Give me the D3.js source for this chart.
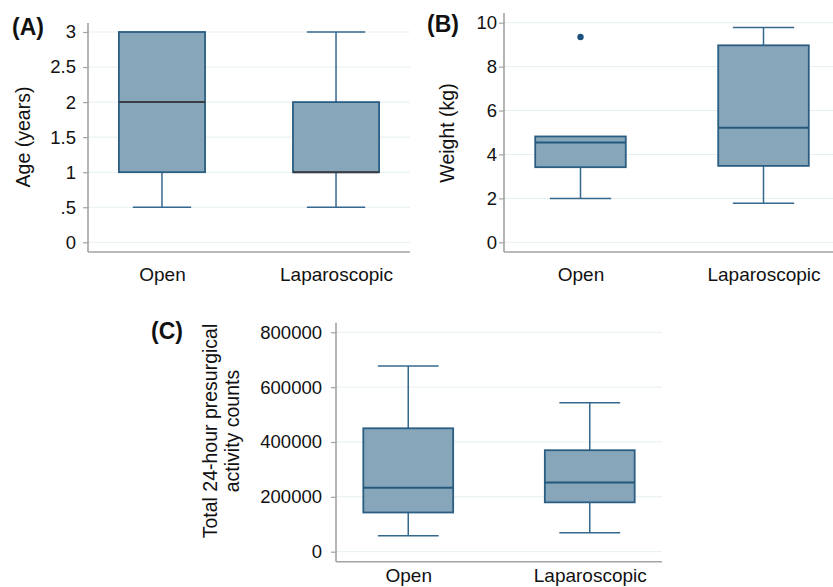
<!DOCTYPE html>
<html>
<head>
<meta charset="utf-8">
<script src="https://cdn.jsdelivr.net/npm/d3@7"></script>
<style>
  html, body { margin: 0; padding: 0; background: #fff; }
  svg { display: block; }
  text { font-family: "Liberation Sans", Arial, Helvetica, sans-serif; fill: #111; }
</style>
</head>
<body>
<svg id="chart" width="833" height="587"></svg>
<script>
// ---- data ----
const categories = ["Open", "Laparoscopic"];

const ageStats = [
  { min: 0.5, q1: 1, median: 2, q3: 3, max: 3 },
  { min: 0.5, q1: 1, median: 1, q3: 2, max: 3 }
];
const ageOutliers = [[], []];
const ageTicks = [0, 0.5, 1, 1.5, 2, 2.5, 3];
const ageTickLabels = ["0", ".5", "1", "1.5", "2", "2.5", "3"];

const weightStats = [
  { min: 2.0, q1: 3.42, median: 4.55, q3: 4.82, max: 4.82 },
  { min: 1.78, q1: 3.48, median: 5.22, q3: 8.97, max: 9.78 }
];
const weightOutliers = [[9.35], []];
const weightTicks = [0, 2, 4, 6, 8, 10];
const weightTickLabels = ["0", "2", "4", "6", "8", "10"];

const activityStats = [
  { min: 58000, q1: 143000, median: 233000, q3: 450000, max: 677000 },
  { min: 69000, q1: 180000, median: 252000, q3: 370000, max: 543000 }
];
const activityOutliers = [[], []];
const activityTicks = [0, 200000, 400000, 600000, 800000];
const activityTickLabels = ["0", "200000", "400000", "600000", "800000"];

// ---- styles ----
const FILL = "#87a6b9";
const STROKE = "#2b5e83";
const WHISKER = "#35688e";
const GRID = "#e5eff1";
const AXIS = "#a3a3a3";

const svg = d3.select("#chart");

function drawPanel(cfg) {
  const g = svg.append("g");
  const x = d3.scalePoint().domain(categories).range([cfg.left, cfg.right]).padding(cfg.pad);
  const y = d3.scaleLinear().domain(cfg.domain).range([cfg.y0, cfg.y1]);
  const step = x.step();
  const boxW = step * 0.495;
  const capW = step * 0.335;

  // gridlines
  g.selectAll(".grid").data(cfg.ticks).enter().append("line")
    .attr("x1", cfg.left).attr("x2", cfg.right)
    .attr("y1", d => y(d)).attr("y2", d => y(d))
    .attr("stroke", GRID).attr("stroke-width", 1);

  // y axis
  const yAxis = d3.axisLeft(y).tickValues(cfg.ticks)
    .tickFormat((d, i) => cfg.tickLabels[i]).tickSize(5).tickPadding(cfg.tickPad);
  const ya = g.append("g").attr("transform", `translate(${cfg.left},0)`).call(yAxis);
  ya.select(".domain").remove();
  ya.selectAll(".tick line").attr("stroke", AXIS).attr("stroke-width", 1.2);
  ya.selectAll(".tick text").attr("font-size", 18.5).attr("fill", "#111")
    .style("font-family", '"Liberation Sans", Arial, sans-serif');
  g.append("line").attr("x1", cfg.left).attr("x2", cfg.left)
    .attr("y1", cfg.axisTop).attr("y2", cfg.axisBottom)
    .attr("stroke", AXIS).attr("stroke-width", 1.6);

  // x axis
  const xAxis = d3.axisBottom(x).tickSize(0).tickPadding(cfg.xPad);
  const xa = g.append("g").attr("transform", `translate(0,${cfg.axisBottom})`).call(xAxis);
  xa.select(".domain").remove();
  xa.selectAll(".tick text").attr("font-size", 19).attr("fill", "#111")
    .style("font-family", '"Liberation Sans", Arial, sans-serif');
  g.append("line").attr("x1", cfg.left).attr("x2", cfg.right)
    .attr("y1", cfg.axisBottom).attr("y2", cfg.axisBottom)
    .attr("stroke", AXIS).attr("stroke-width", 1.6);

  // boxes
  const boxes = g.selectAll(".box").data(cfg.stats).enter().append("g");
  boxes.each(function (d, i) {
    const gg = d3.select(this);
    const cx = x(categories[i]);
    if (d.max > d.q3) {
      gg.append("line").attr("x1", cx).attr("x2", cx).attr("y1", y(d.q3)).attr("y2", y(d.max))
        .attr("stroke", WHISKER).attr("stroke-width", 1.5);
      gg.append("line").attr("x1", cx - capW / 2).attr("x2", cx + capW / 2)
        .attr("y1", y(d.max)).attr("y2", y(d.max)).attr("stroke", WHISKER).attr("stroke-width", 1.5);
    }
    if (d.min < d.q1) {
      gg.append("line").attr("x1", cx).attr("x2", cx).attr("y1", y(d.q1)).attr("y2", y(d.min))
        .attr("stroke", WHISKER).attr("stroke-width", 1.5);
      gg.append("line").attr("x1", cx - capW / 2).attr("x2", cx + capW / 2)
        .attr("y1", y(d.min)).attr("y2", y(d.min)).attr("stroke", WHISKER).attr("stroke-width", 1.5);
    }
    gg.append("rect").attr("x", cx - boxW / 2).attr("width", boxW)
      .attr("y", y(d.q3)).attr("height", y(d.q1) - y(d.q3))
      .attr("fill", FILL).attr("stroke", STROKE).attr("stroke-width", 1.8);
    gg.append("line").attr("x1", cx - boxW / 2).attr("x2", cx + boxW / 2)
      .attr("y1", y(d.median)).attr("y2", y(d.median))
      .attr("stroke", cfg.medianColor).attr("stroke-width", 2);
    cfg.outliers[i].forEach(v => {
      gg.append("circle").attr("cx", cx).attr("cy", y(v)).attr("r", 3.2).attr("fill", "#1d5180");
    });
  });

  // y label
  const lab = g.append("text")
    .attr("transform", `translate(${cfg.labelX},${cfg.labelY}) rotate(-90)`)
    .attr("text-anchor", "middle").attr("font-size", 19.5);
  cfg.yLabel.forEach((line, i) => {
    lab.append("tspan").attr("x", 0).attr("dy", i === 0 ? "0.35em" : "1.13em").text(line);
  });

  // panel label
  g.append("text").attr("x", cfg.panelX).attr("y", cfg.panelY)
    .attr("font-size", 23).attr("font-weight", "bold").text(cfg.panel);
}

drawPanel({
  panel: "(A)", panelX: 12, panelY: 35,
  stats: ageStats, outliers: ageOutliers, domain: [0, 3], ticks: ageTicks, tickLabels: ageTickLabels,
  left: 88, right: 410, pad: 0.425, y0: 242.3, y1: 32, axisTop: 23, axisBottom: 252,
  tickPad: 7, xPad: 16, medianColor: "#3a3d42",
  yLabel: ["Age (years)"], labelX: 23, labelY: 137
});

drawPanel({
  panel: "(B)", panelX: 427, panelY: 32,
  stats: weightStats, outliers: weightOutliers, domain: [0, 10], ticks: weightTicks, tickLabels: weightTickLabels,
  left: 504, right: 840, pad: 0.418, y0: 242.3, y1: 22.7, axisTop: 13, axisBottom: 252,
  tickPad: 2, xPad: 16, medianColor: "#24587c",
  yLabel: ["Weight (kg)"], labelX: 447, labelY: 133
});

drawPanel({
  panel: "(C)", panelX: 151, panelY: 339,
  stats: activityStats, outliers: activityOutliers, domain: [0, 800000], ticks: activityTicks, tickLabels: activityTickLabels,
  left: 336, right: 662, pad: 0.398, y0: 551.7, y1: 332.3, axisTop: 322.7, axisBottom: 561.7,
  tickPad: 9, xPad: 7, medianColor: "#24587c",
  yLabel: ["Total 24-hour presurgical", "activity counts"], labelX: 210, labelY: 431
});
</script>
</body>
</html>
